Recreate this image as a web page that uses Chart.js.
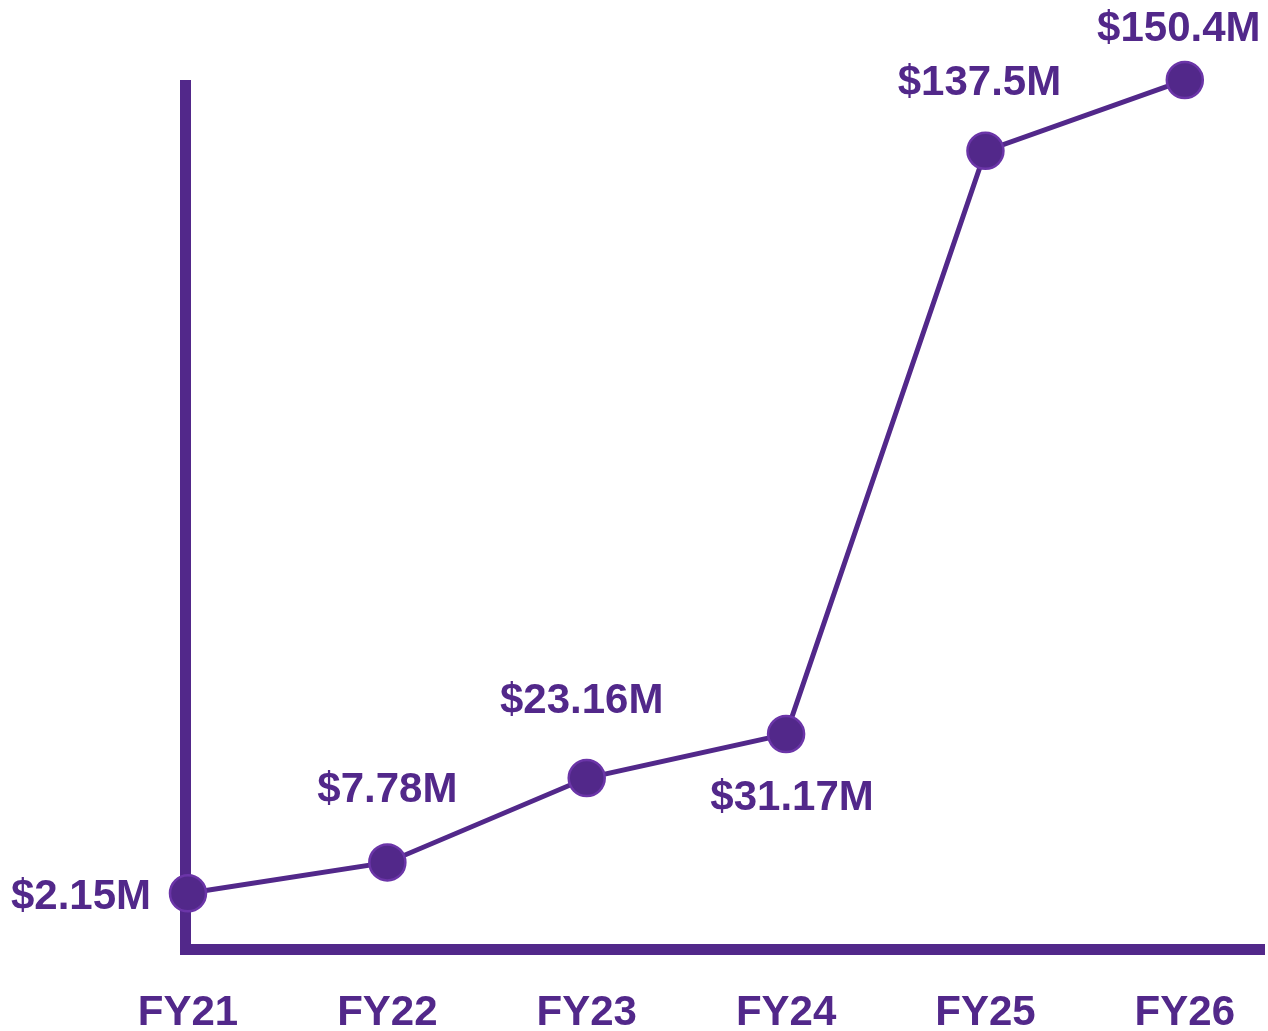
<!DOCTYPE html>
<html lang="en">
<head>
    <meta charset="UTF-8">
    <title>Fiscal Year Growth</title>
    <script src="https://cdn.jsdelivr.net/npm/chart.js"></script>
    <style>
        html, body {
            margin: 0;
            padding: 0;
            background: #fff;
            overflow: hidden;
        }
        #wrap {
            position: relative;
            width: 1274px;
            height: 1031px;
        }
    </style>
</head>
<body>
    <div id="wrap"><canvas id="myChart"></canvas></div>

    <script>
        const years = ['FY21', 'FY22', 'FY23', 'FY24', 'FY25', 'FY26'];
        const values = [2.15, 7.78, 23.16, 31.17, 137.5, 150.4];
        const valueLabels = ['$2.15M', '$7.78M', '$23.16M', '$31.17M', '$137.5M', '$150.4M'];

        const purple = '#52288a';
        const font = 'bold 42px "Liberation Sans", Arial, sans-serif';

        // where each value label sits relative to its point
        const labelOffsets = [[-107, 4], [0, -72], [-5, -77], [6, 64], [-6, -67], [-6, -51]];

        const valueLabelPlugin = {
            id: 'valueLabels',
            afterDatasetsDraw(chart) {
                const ctx = chart.ctx;
                const meta = chart.getDatasetMeta(0);
                ctx.save();
                ctx.font = font;
                ctx.fillStyle = purple;
                ctx.textAlign = 'center';
                ctx.textBaseline = 'middle';
                meta.data.forEach((pt, i) => {
                    const [dx, dy] = labelOffsets[i];
                    ctx.fillText(valueLabels[i], pt.x + dx, pt.y + dy);
                });
                ctx.restore();
            }
        };

        const ctx = document.getElementById('myChart').getContext('2d');
        new Chart(ctx, {
            type: 'line',
            data: {
                datasets: [{
                    data: values.map((v, i) => ({ x: i, y: v })),
                    borderColor: purple,
                    borderWidth: 5,
                    tension: 0,
                    pointRadius: 18,
                    pointHoverRadius: 18,
                    pointBackgroundColor: purple,
                    pointBorderColor: '#6b35a8',
                    pointBorderWidth: 2.5,
                    clip: false
                }]
            },
            options: {
                responsive: true,
                maintainAspectRatio: false,
                animation: false,
                layout: { autoPadding: false, padding: { left: 185, top: 85, right: 0, bottom: 0 } },
                plugins: {
                    legend: { display: false },
                    tooltip: { enabled: false }
                },
                scales: {
                    x: {
                        type: 'linear',
                        min: -0.015,
                        max: 5.4,
                        afterBuildTicks: (s) => { s.ticks = years.map((_, i) => ({ value: i })); },
                        afterFit: (s) => { s.height = 82; },
                        ticks: {
                            callback: (v) => years[v],
                            color: purple,
                            font: { family: '"Liberation Sans", Arial, sans-serif', size: 42, weight: 'bold' },
                            padding: 39,
                            maxRotation: 0
                        },
                        grid: { display: false, drawTicks: false },
                        border: { display: true, color: purple, width: 11 }
                    },
                    y: {
                        min: -8,
                        max: 149.5,
                        afterFit: (s) => { s.width = 0; },
                        ticks: { display: false },
                        grid: { display: false, drawTicks: false },
                        border: { display: true, color: purple, width: 11 }
                    }
                }
            },
            plugins: [valueLabelPlugin]
        });
    </script>
</body>
</html>
